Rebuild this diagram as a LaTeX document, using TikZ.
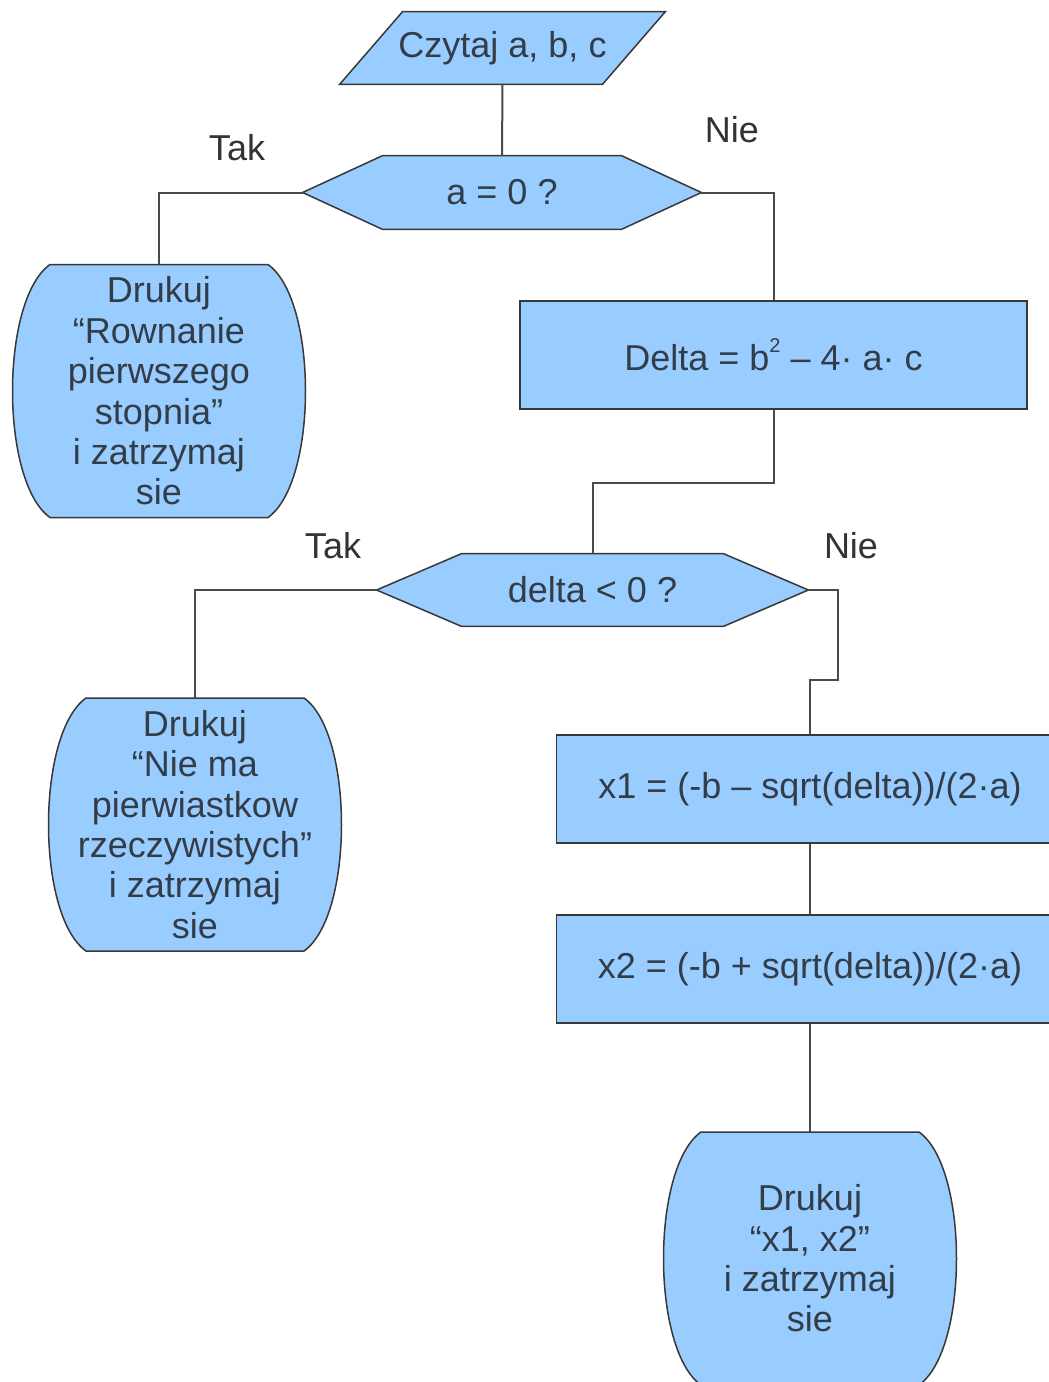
\documentclass[tikz,border=0pt]{standalone}
\usepackage{fontspec}
\setmainfont{Liberation Sans}
\usetikzlibrary{calc,backgrounds}
\definecolor{boxfill}{HTML}{99CCFF}
\definecolor{edgecol}{HTML}{383838}
\definecolor{linecol}{HTML}{4A4A4A}
\definecolor{txtcol}{HTML}{333D48}
\newcommand\smallsup[1]{\raisebox{0.5em}{\fontsize{10pt}{10pt}\selectfont #1}}
\begin{document}
\begin{tikzpicture}[x=0.5pt,y=-0.5pt,
  every node/.style={font=\fontsize{18pt}{20.2pt}\selectfont, text=txtcol, inner sep=0pt},
  shapeline/.style={draw=edgecol, line width=0.75pt, fill=boxfill},
  procbox/.style={shapeline, rectangle, minimum width=253.5pt, minimum height=54pt},
  printbox/.style={minimum width=145pt, minimum height=126.5pt, align=center},
  conn/.style={draw=linecol, line width=1pt},
  label/.style={text=black!80},
  printshape/.pic={
    \path[shapeline] (-109,-126.5) -- (109,-126.5)
      .. controls (159,-91) and (159,91) .. (109,126.5) -- (-109,126.5)
      .. controls (-159,91) and (-159,-91) .. cycle;
  }
]
\useasboundingbox (0,0) rectangle (1049,1382);

% input and decisions
\node[minimum width=162.5pt, minimum height=36pt] (in) at (502.5,48) {Czytaj a, b, c};
\node[minimum width=199pt, minimum height=36.5pt] (d1) at (502,192.5) {a = 0 ?};
\node[minimum width=215.5pt, minimum height=36pt] (d2) at (592.5,590) {delta < 0 ?};

% processing boxes
\node[procbox] (dl) at (773.5,355) {Delta = b\smallsup{2} – 4· a· c};
\node[procbox] (x1) at (810,789) {x1 = (-b – sqrt(delta))/(2·a)};
\node[procbox] (x2) at (810,969) {x2 = (-b + sqrt(delta))/(2·a)};

% print (output) boxes
\node[printbox] (p1) at (159,391) {Drukuj\\“Rownanie\\pierwszego\\stopnia”\\i zatrzymaj\\sie};
\node[printbox] (p2) at (195,824.5) {Drukuj\\“Nie ma\\pierwiastkow\\rzeczywistych”\\i zatrzymaj\\sie};
\node[printbox] (p3) at (810,1258.5) {Drukuj\\“x1, x2”\\i zatrzymaj\\sie};

% branch labels
\node[label] (tak1) at (237,148) {Tak};
\node[label] (nie1) at (732,130) {Nie};
\node[label] (tak2) at (333,546) {Tak};
\node[label] (nie2) at (851,546) {Nie};

\begin{pgfonlayer}{background}
  \fill[white] (0,0) rectangle (1049,1382);
  % parallelogram
  \path[shapeline] (in.south west) -- ($(in.north west)+(63,0)$) -- (in.north east)
    -- ($(in.south east)+(-63,0)$) -- cycle;
  % hexagons
  \path[shapeline] (d1.west) -- ($(d1.north west)+(80,0)$) -- ($(d1.north east)+(-80,0)$)
    -- (d1.east) -- ($(d1.south east)+(-80,0)$) -- ($(d1.south west)+(80,0)$) -- cycle;
  \path[shapeline] (d2.west) -- ($(d2.north west)+(85,0)$) -- ($(d2.north east)+(-85,0)$)
    -- (d2.east) -- ($(d2.south east)+(-85,0)$) -- ($(d2.south west)+(85,0)$) -- cycle;
  % print shapes
  \pic at (p1) {printshape};
  \pic at (p2) {printshape};
  \pic at (p3) {printshape};
\end{pgfonlayer}

% connectors
\draw[conn] (in.south) -- (d1.north);
\draw[conn] (d1.west) -| (p1.north);
\draw[conn] (d1.east) -| (dl.north);
\draw[conn] (dl.south) -- ++(0,73) -| (d2.north);
\draw[conn] (d2.west) -| (p2.north);
\draw[conn] (d2.east) -- ++(30,0) -- ++(0,90) -| (x1.north);
\draw[conn] (x1.south) -- (x2.north);
\draw[conn] (x2.south) -- (p3.north);
\end{tikzpicture}
\end{document}
